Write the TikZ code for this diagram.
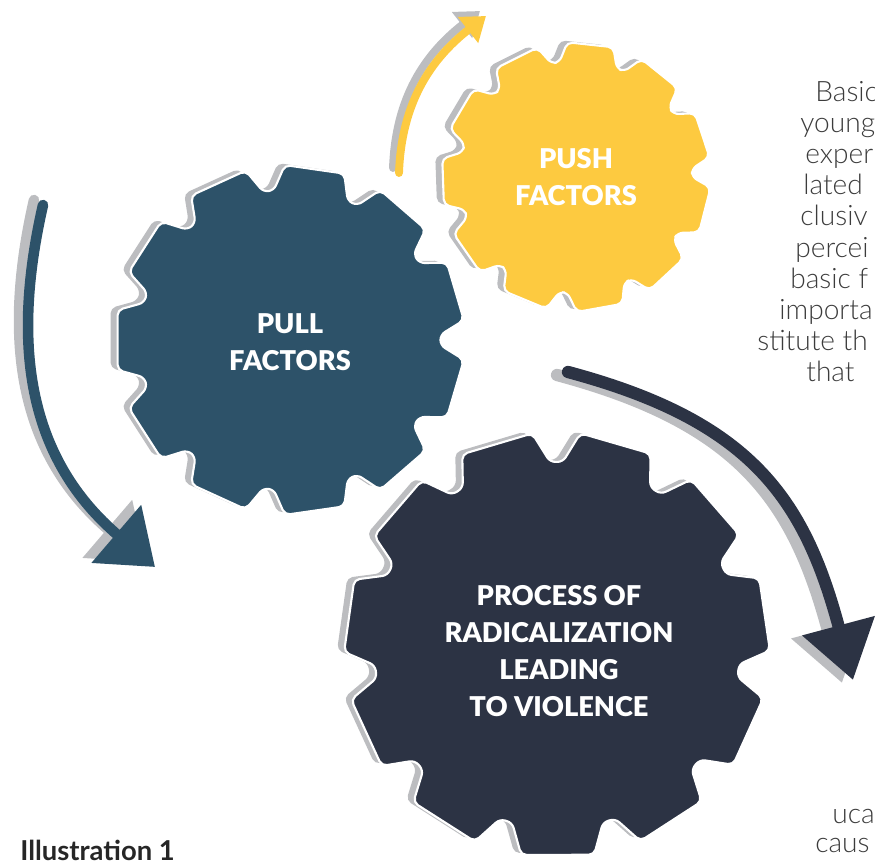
\documentclass[tikz,border=0pt]{standalone}
\usepackage{fontspec}
\setmainfont{Lato}
\newfontfamily\lightfont{Lato Light}
\newfontfamily\heavyfont{Lato Black}
\usetikzlibrary{arrows.meta}
\definecolor{pullblue}{RGB}{45,82,105}
\definecolor{pushyellow}{RGB}{253,202,64}
\definecolor{darknavy}{RGB}{44,51,68}
\definecolor{shadowgray}{RGB}{188,189,192}
\definecolor{textgray}{RGB}{60,60,60}

% 11 teeth: outer radius, rotation of the first notch
\newcommand\teeth[2]{%
  ({#2-6.5}:{#1}) -- ({#2-2}:{0.86*#1}) -- ({#2+2}:{0.86*#1}) -- ({#2+6.5}:{#1})
  \foreach \k in {1,...,10}{
    -- ({#2+\k*360/11-6.5}:{#1}) -- ({#2+\k*360/11-2}:{0.86*#1})
    -- ({#2+\k*360/11+2}:{0.86*#1}) -- ({#2+\k*360/11+6.5}:{#1})}
  -- cycle}
% x, y, radius, rotation, colour
\newcommand\gear[5]{%
  \fill[shadowgray,rounded corners=3pt,shift={(#1-7,#2+2)}] \teeth{#3}{#4};
  \fill[#5,draw=white,line width=1.2pt,rounded corners=3pt,shift={(#1,#2)}] \teeth{#3}{#4};}

\begin{document}
\begin{tikzpicture}[x=0.02cm,y=0.02cm,
  gearlabel/.style={text=white,font=\heavyfont\fontsize{15.5}{21}\selectfont,align=center},
  bodytext/.style={text=textgray,font=\lightfont\fontsize{16}{18}\selectfont,anchor=base west,inner sep=0pt},
  pullarrow/.style={line width=6pt,line cap=round,-{Triangle[length=29pt,width=42pt]}},
  pusharrow/.style={line width=4.5pt,line cap=round,-{Triangle[length=13pt,width=18pt]}},
  procarrow/.style={line width=7pt,line cap=round,-{Triangle[length=32pt,width=41pt]}}]
	\useasboundingbox (0,0) rectangle (875,865);
	\clip (0,0) rectangle (875,865);
	% gears
	\gear{290}{525}{175}{0}{pullblue}
	\gear{576}{688}{135}{2}{pushyellow}
	\gear{557}{220}{213}{-8}{darknavy}
	\node[gearlabel] (pull) at (290,523) {PULL\\FACTORS};
	\node[gearlabel] (push) at (576,688) {PUSH\\FACTORS};
	\node[gearlabel] (process) at (559,214) {PROCESS OF\\RADICALIZATION\\LEADING\\TO VIOLENCE};
	% arrows
	\coordinate (pullfrom) at (43,660);
	\coordinate (pullto) at (155,298);
	\coordinate (pushfrom) at (399,692);
	\coordinate (pushto) at (486,849);
	\coordinate (procfrom) at (568,493);
	\coordinate (procto) at (853,185);
	\draw[pullarrow,shadowgray] ([shift={(-9,5)}]pullfrom) .. controls +(-33,-145) and +(-125,107) .. ([shift={(-9,5)}]pullto);
	\draw[pullarrow,pullblue] (pullfrom) .. controls +(-33,-145) and +(-125,107) .. (pullto);
	\draw[pusharrow,shadowgray] ([shift={(-6,5)}]pushfrom) to[out=88,in=218] ([shift={(-6,5)}]pushto);
	\draw[pusharrow,pushyellow] (pushfrom) to[out=88,in=218] (pushto);
	\draw[procarrow,shadowgray] ([shift={(-11,-3)}]procfrom) to[out=-15,in=105,looseness=1.15] ([shift={(-11,-3)}]procto);
	\draw[procarrow,darknavy] (procfrom) to[out=-15,in=105,looseness=1.15] (procto);
	% text cut by the page
	\foreach \x/\y/\t [count=\i] in {815/763/Basic,800/732/young,805/701/exper,803/670/lated,
		800/639/clusiv,795/607/percei,790/576/basic f,779/545/importa,757/514/stitute th,
		806/483/that,832/42/uca,815/12/caus}
		\node[bodytext] (line\i) at (\x,\y) {\t};
	\node[font=\bfseries\fontsize{15.6}{18}\selectfont,text=black!85,anchor=base west,inner sep=0pt] (caption) at (20,5) {Illustration 1};
\end{tikzpicture}
\end{document}
